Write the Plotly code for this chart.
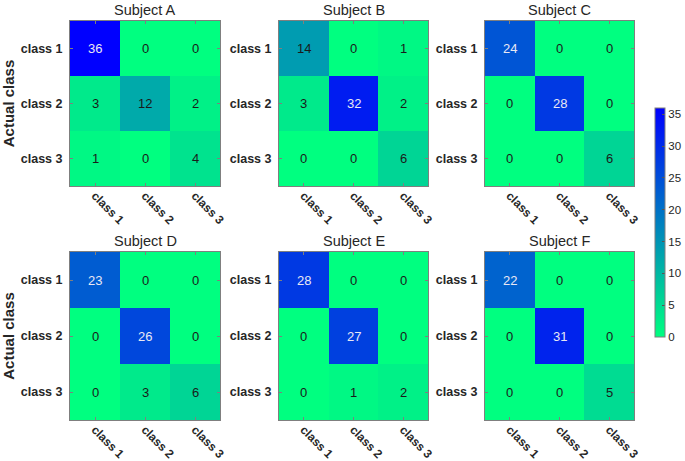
import plotly.graph_objects as go

classes = ["class 1", "class 2", "class 3"]
subjects = ["Subject A", "Subject B", "Subject C", "Subject D", "Subject E", "Subject F"]
subject_a = [[36, 0, 0], [3, 12, 2], [1, 0, 4]]
subject_b = [[14, 0, 1], [3, 32, 2], [0, 0, 6]]
subject_c = [[24, 0, 0], [0, 28, 0], [0, 0, 6]]
subject_d = [[23, 0, 0], [0, 26, 0], [0, 3, 6]]
subject_e = [[28, 0, 0], [0, 27, 0], [0, 1, 2]]
subject_f = [[22, 0, 0], [0, 31, 0], [0, 0, 5]]
matrices = [subject_a, subject_b, subject_c, subject_d, subject_e, subject_f]
cbar_ticks = [0, 5, 10, 15, 20, 25, 30, 35]

W, H = 685, 461
CMAX = 36
colorscale = [[0, "rgb(0,255,128)"], [1, "rgb(0,0,255)"]]
FONT = "Liberation Sans, Arial, sans-serif"
TXT = "#262626"

col_px = [(70, 220), (279, 428), (485, 634)]
row_px = [(21, 186), (252, 420)]

fig = go.Figure()
annotations = []
for i, (name, z) in enumerate(zip(subjects, matrices)):
    r, c = divmod(i, 3)
    xa = "x" if i == 0 else f"x{i+1}"
    ya = "y" if i == 0 else f"y{i+1}"
    fig.add_trace(go.Heatmap(
        z=z, x=classes, y=classes, xaxis=xa, yaxis=ya,
        colorscale=colorscale, zmin=0, zmax=CMAX,
        showscale=(i == 0), hoverinfo="z",
        colorbar=dict(
            x=655 / W, xanchor="left", xpad=0, ypad=0,
            thickness=10, thicknessmode="pixels",
            len=(337 - 108) / H, lenmode="fraction",
            y=1 - (108 + 337) / 2 / H, yanchor="middle",
            tickvals=cbar_ticks, ticks="inside", ticklen=3, tickcolor="#555",
            outlinecolor="#7f7f7f", outlinewidth=1,
            tickfont=dict(family=FONT, size=11.5, color=TXT),
        ) if i == 0 else None,
    ))
    x0, x1 = col_px[c]
    y0, y1 = row_px[r]
    key = "" if i == 0 else str(i + 1)
    fig.layout["xaxis" + key] = dict(
        domain=[x0 / W, x1 / W], anchor=ya, tickangle=45, automargin=False,
        tickfont=dict(family=FONT, size=12, color=TXT, weight="bold"),
        showline=True, linecolor="#7f7f7f", linewidth=1, mirror="ticks",
        ticks="inside", ticklen=3, tickcolor="#7f7f7f", showgrid=False,
        zeroline=False, fixedrange=True, ticklabelstandoff=-3,
    )
    fig.layout["yaxis" + key] = dict(
        domain=[1 - y1 / H, 1 - y0 / H], anchor=xa, autorange="reversed",
        automargin=False,
        tickfont=dict(family=FONT, size=12.5, color=TXT, weight="bold"),
        showline=True, linecolor="#7f7f7f", linewidth=1, mirror="ticks",
        ticks="inside", ticklen=3, tickcolor="#7f7f7f", showgrid=False,
        zeroline=False, fixedrange=True, ticklabelstandoff=4,
        title=dict(text="Actual class", standoff=8,
                   font=dict(family=FONT, size=15, color=TXT, weight="bold")) if c == 0 else None,
    )
    annotations.append(dict(
        text=name, xref="paper", yref="paper", x=(x0 + x1) / 2 / W, y=1 - y0 / H,
        xanchor="center", yanchor="bottom", yshift=1, showarrow=False,
        font=dict(family=FONT, size=14.5, color=TXT),
    ))
    for ri, row in enumerate(z):
        for ci, v in enumerate(row):
            annotations.append(dict(
                text=str(v), x=classes[ci], y=classes[ri], xref=xa, yref=ya,
                showarrow=False,
                font=dict(family=FONT, size=13,
                          color="#e8e8f4" if v / CMAX > 0.55 else "#1a1a1a"),
            ))

fig.update_layout(
    width=W, height=H, margin=dict(l=0, r=0, t=0, b=0, autoexpand=False),
    paper_bgcolor="white", plot_bgcolor="white",
    annotations=annotations, showlegend=False,
)
fig.write_html("out.html", config={"displayModeBar": False},
               post_script="document.body.style.margin='0';document.body.style.overflow='hidden';")
